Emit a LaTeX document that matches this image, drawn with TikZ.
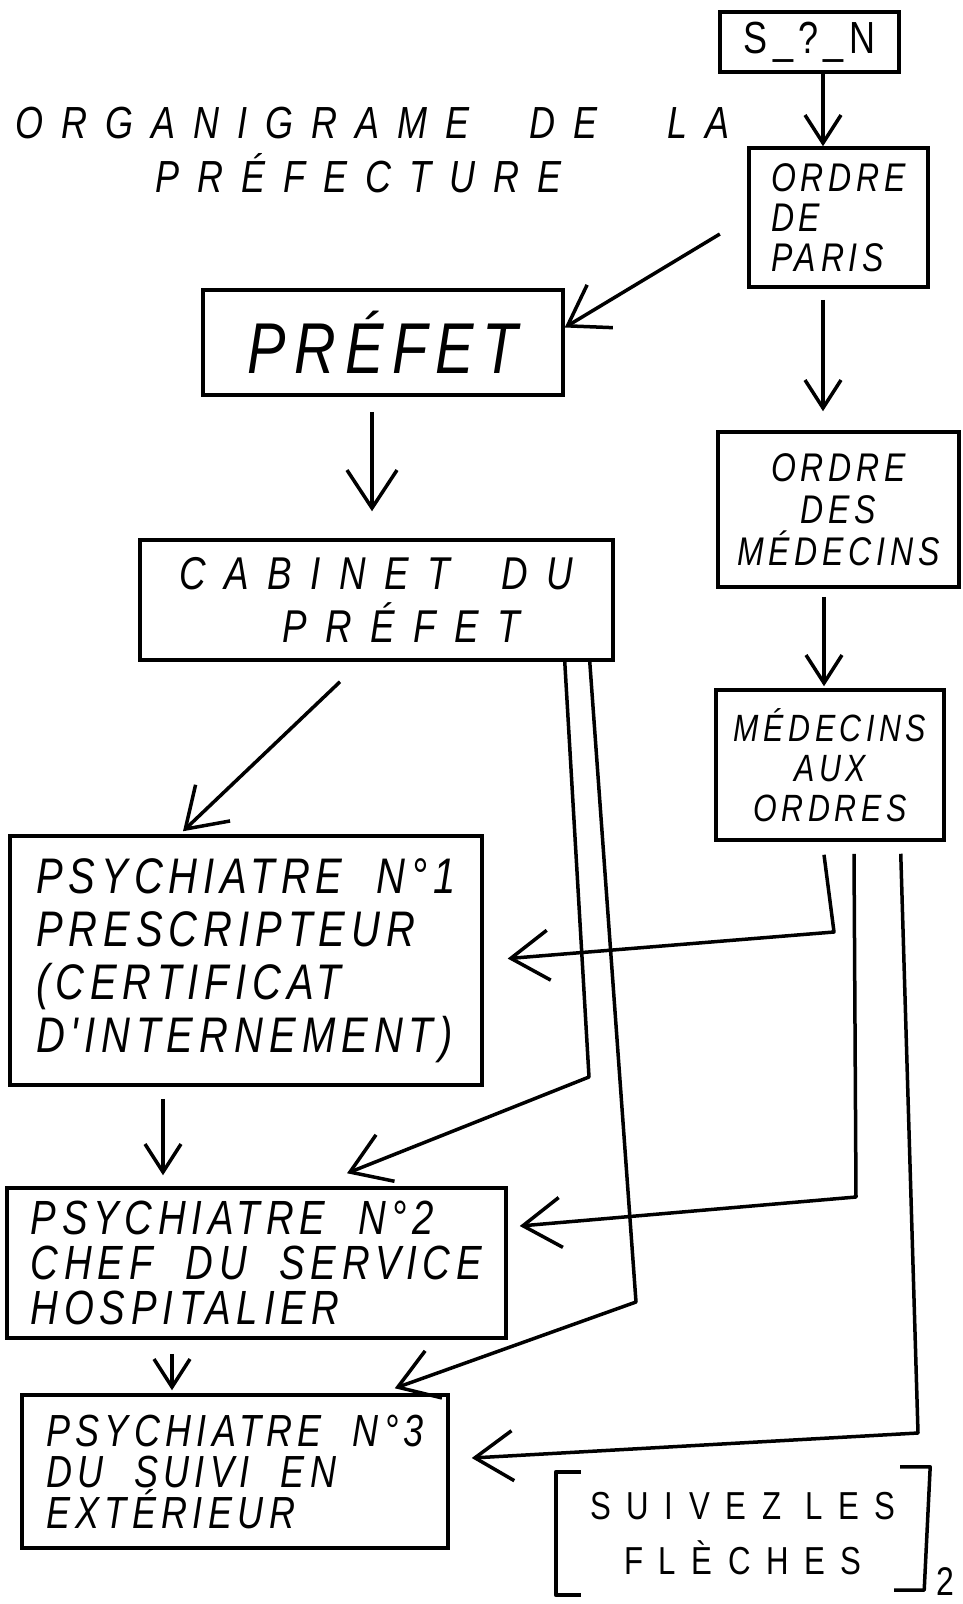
\documentclass[tikz,border=0pt]{standalone}
\usepackage{fontspec}
\newfontfamily\hand[LetterSpace=12,FakeStretch=0.8,WordSpace=2]{Liberation Sans}
\newfontfamily\handwide[LetterSpace=40,FakeStretch=0.8]{Liberation Sans}
\usetikzlibrary{arrows.meta}
\tikzset{
  box/.style={rectangle, draw, line width=3.5pt, inner sep=0pt, align=left},
  hs/.style 2 args={font=\hand\itshape\fontsize{#1}{#2}\selectfont},
  hu/.style 2 args={font=\hand\fontsize{#1}{#2}\selectfont},
  hw/.style 2 args={font=\handwide\itshape\fontsize{#1}{#2}\selectfont},
  arrow/.style={-{Straight Barb[length=28pt, width=36pt]}, line width=3.5pt, line join=round},
  bigarrow/.style={-{Straight Barb[length=38pt, width=50pt]}, line width=3.5pt, line join=round},
  link/.style={line width=3.5pt, line join=round},
}

\begin{document}
\begin{tikzpicture}[x=1pt, y=-1pt]
    \fill[white] (0,0) rectangle (963,1604);
    \useasboundingbox (0,0) rectangle (963,1604);
    \node[anchor=base west, hw={45}{54}] (title) at (12,138) {ORGANIGRAME\hspace{60pt}DE\hspace{70pt}LA};
    \node[anchor=base west, hw={45}{54}] (title2) at (152,192) {PRÉFECTURE};
    \node[box, hu={45}{48}, minimum width=179pt, minimum height=60pt] (sn) at (809.5,42) {S\_?\_N};
    \node[box, hs={40}{40}, minimum width=179pt, minimum height=139pt] (paris) at (838.5,217.5) {ORDRE\\DE\\PARIS};
    \node[box, hs={72}{76}, minimum width=360pt, minimum height=105pt] (prefet) at (383,342.5) {PRÉFET};
    \node[box, hw={46}{53}, align=center, minimum width=473pt, minimum height=120pt] (cabinet) at (376.5,600) {CABINET\hspace{52pt}DU\\\hspace{50pt}PRÉFET};
    \node[box, hs={40}{42}, align=center, minimum width=241pt, minimum height=155pt] (odm) at (838.5,509.5) {ORDRE\\DES\\MÉDECINS};
    \node[box, hs={38}{40}, align=center, minimum width=228pt, minimum height=150pt] (mao) at (830,765) {MÉDECINS\\AUX\\ORDRES};
    \node[box, hs={50}{53}, minimum width=472pt, minimum height=249pt] (psy1) at (246,960.5) {PSYCHIATRE N°1\\PRESCRIPTEUR\\(CERTIFICAT\\D'INTERNEMENT)};
    \node[box, hs={48}{45}, minimum width=499pt, minimum height=150pt] (psy2) at (256.5,1263) {PSYCHIATRE N°2\\CHEF DU SERVICE\\HOSPITALIER};
    \node[box, hs={45}{41}, minimum width=426pt, minimum height=153pt] (psy3) at (235,1471.5) {PSYCHIATRE N°3\\DU SUIVI EN\\EXTÉRIEUR};
    \node[font=\handwide\fontsize{39}{55}\selectfont, align=center, inner sep=0pt, minimum width=374pt, minimum height=123pt] (note) at (743,1533.5) {SUIVEZ LES\\FLÈCHES};
    \node[hu={40}{40}, anchor=base, inner sep=0pt] (page) at (945,1595) {2};
    \coordinate (k1) at (589,1077);
    \coordinate (k2) at (636,1302);
    \coordinate (k3) at (834,932);
    \coordinate (k4) at (856,1197);
    \coordinate (k5) at (918,1433);
    \draw[arrow] ([xshift=13.5pt]sn.south) -- ([xshift=-15.5pt]paris.north);
    \draw[bigarrow, shorten <=32pt] (paris.west) -- ([yshift=15pt]prefet.east);
    \draw[bigarrow, shorten <=15pt, shorten >=27pt] ([xshift=-11pt]prefet.south) -- ([xshift=-4.5pt]cabinet.north);
    \draw[bigarrow] ([xshift=-36.5pt,yshift=-20pt]cabinet.south) -- ([xshift=-63pt,yshift=3pt]psy1.north);
    \draw[arrow, shorten <=11pt, shorten >=19pt] ([xshift=-15.5pt]paris.south) -- ([xshift=-15.5pt]odm.north);
    \draw[arrow, shorten <=8pt, shorten >=2pt] ([xshift=-14.5pt]odm.south) -- ([xshift=-6pt]mao.north);
    \draw[arrow, shorten <=12pt, shorten >=11pt] ([xshift=-83pt]psy1.south) -- ([xshift=-93.5pt]psy2.north);
    \draw[arrow, shorten <=14pt, shorten >=3pt] ([xshift=-84.5pt]psy2.south) -- ([xshift=-63pt]psy3.north);
    \draw[bigarrow] ([xshift=-50pt]cabinet.south east) -- (k1) -- ([xshift=90.5pt,yshift=13pt]psy2.north);
    \draw[bigarrow] ([xshift=-25pt]cabinet.south east) -- (k2) -- ([xshift=-55pt,yshift=5pt]psy3.north east);
    \draw[bigarrow, shorten >=24pt] ([xshift=-6pt,yshift=-13pt]mao.south) -- (k3) -- (psy1.east);
    \draw[bigarrow] ([xshift=24pt,yshift=-12pt]mao.south) -- (k4) -- ([xshift=12pt,yshift=37pt]psy2.east);
    \draw[bigarrow] ([xshift=-45pt,yshift=-12pt]mao.south east) -- (k5) -- ([xshift=22pt,yshift=13.5pt]psy3.east);
    \draw[link] ([xshift=25pt]note.north west) -- (note.north west) -- (note.south west) -- ([xshift=25pt]note.south west);
    \draw[link] ([xshift=-30pt,yshift=5pt]note.north east) -- ([yshift=5pt]note.north east) -- ([xshift=-6pt,yshift=5pt]note.south east) -- ([xshift=-36pt,yshift=5pt]note.south east);
  \end{tikzpicture}
\end{document}
